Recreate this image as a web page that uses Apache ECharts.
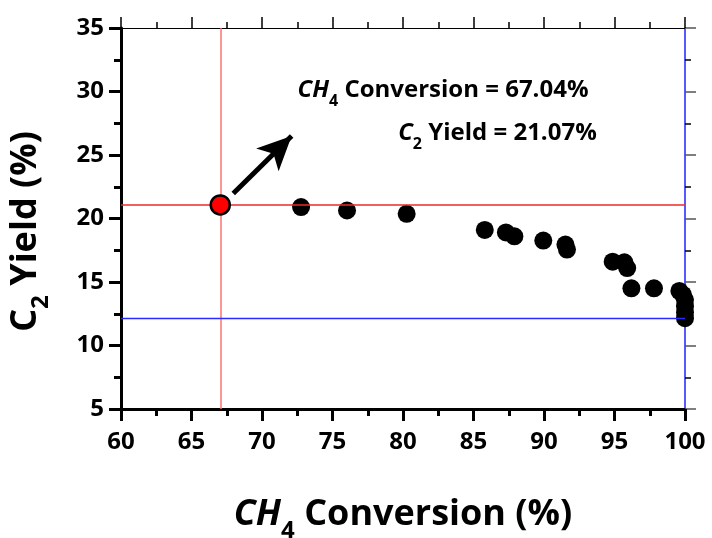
<!DOCTYPE html>
<html><head><meta charset="utf-8">
<script src="https://cdn.jsdelivr.net/npm/echarts@6/dist/echarts.min.js"></script>
<style>html,body{margin:0;padding:0;background:#fff}#c{width:712px;height:538px}</style>
</head><body><div id="c"></div>
<script>
// ---- data ----
const conversion = [72.77, 76.03, 80.26, 85.8, 87.3, 87.9, 89.95, 91.52, 91.63, 94.87, 95.7, 95.9, 96.2, 97.8, 99.6, 99.85, 100, 100, 100, 100];
const yieldC2    = [20.9, 20.63, 20.37, 19.1, 18.9, 18.6, 18.26, 17.95, 17.55, 16.6, 16.55, 16.1, 14.5, 14.5, 14.3, 14.0, 13.6, 13.1, 12.6, 12.15];
const optimum = [67.04, 21.07];
const minYield = 12.15;
const arrowFrom = [67.96, 21.97];
const arrowTo = [72.1, 26.5];
const annotationText = ['{i|CH}{s|4}{n| Conversion = 67.04%}', '{i|C}{s|2}{n| Yield = 21.07%}'];
const annotationAt = [[82.84, 30.12], [86.7, 26.73]];
const xAxisName = '{i|CH}{s|4}{n| Conversion (%)}';
const yAxisName = '{n|C}{s|2}{n| Yield (%)}';

const FONT = '"Open Sans", "Noto Sans", sans-serif';
const chart = echarts.init(document.getElementById('c'));

const pairs = conversion.map((x, i) => [x, yieldC2[i]]);

const annRich = {
  i: {fontFamily: FONT, fontWeight: 700, fontStyle: 'italic', fontSize: 24, color: '#000'},
  s: {fontFamily: FONT, fontWeight: 700, fontSize: 16, color: '#000', padding: [22, 0, 0, 0]},
  n: {fontFamily: FONT, fontWeight: 700, fontSize: 24, color: '#000'}
};

// helper: one reference line per (empty) series so each keeps its own colour
function refLineSeries(item, color, width, z) {
  return {
    type: 'scatter', xAxisIndex: 0, yAxisIndex: 0, data: [], z: z,
    itemStyle: {color: color},
    markLine: {
      silent: true, symbol: ['none', 'none'], label: {show: false},
      lineStyle: {color: color, width: width, type: 'solid', opacity: 1},
      emphasis: {disabled: true},
      data: [item]
    }
  };
}

const option = {
  animation: false,
  backgroundColor: '#fff',
  grid: {left: 121, right: 27, top: 28, bottom: 129, containLabel: false, outerBoundsMode: 'none'},
  xAxis: [{
    type: 'value', min: 60, max: 100, interval: 5, position: 'bottom',
    name: xAxisName, nameLocation: 'middle', nameGap: 78,
    nameTextStyle: {rich: {
      i: {fontFamily: FONT, fontWeight: 700, fontStyle: 'italic', fontSize: 36, color: '#000'},
      s: {fontFamily: FONT, fontWeight: 700, fontSize: 24, color: '#000', padding: [32, 0, 0, 0]},
      n: {fontFamily: FONT, fontWeight: 700, fontSize: 36, color: '#000'}
    }},
    axisLine: {show: true, onZero: false, lineStyle: {color: '#000', width: 3}},
    axisTick: {show: true, inside: false, length: 12, lineStyle: {color: '#000', width: 3}},
    minorTick: {show: true, splitNumber: 2, length: 7, lineStyle: {color: '#000', width: 3}},
    axisLabel: {show: true, margin: 21, fontFamily: FONT, fontWeight: 700, fontSize: 24, color: '#000'},
    splitLine: {show: false}
  }, {
    type: 'value', min: 60, max: 100, interval: 5, position: 'top',
    axisLine: {show: true, onZero: false, lineStyle: {color: '#000', width: 1}},
    axisTick: {show: true, inside: false, length: 11, lineStyle: {color: '#000', width: 1.5}},
    minorTick: {show: true, splitNumber: 2, length: 6, lineStyle: {color: '#000', width: 1.5}},
    axisLabel: {show: false},
    splitLine: {show: false}
  }],
  yAxis: [{
    type: 'value', min: 5, max: 35, interval: 5, position: 'left',
    name: yAxisName, nameLocation: 'middle', nameGap: 68,
    nameTextStyle: {padding: [0, 26, 0, 0], rich: {
      s: {fontFamily: FONT, fontWeight: 700, fontSize: 24, color: '#000', padding: [31, 0, 0, 0]},
      n: {fontFamily: FONT, fontWeight: 700, fontSize: 36, color: '#000'}
    }},
    axisLine: {show: true, onZero: false, lineStyle: {color: '#000', width: 3}},
    axisTick: {show: true, inside: false, length: 12, lineStyle: {color: '#000', width: 3}},
    minorTick: {show: true, splitNumber: 2, length: 7, lineStyle: {color: '#000', width: 3}},
    axisLabel: {show: true, margin: 17, fontFamily: FONT, fontWeight: 700, fontSize: 24, color: '#000'},
    splitLine: {show: false}
  }, {
    type: 'value', min: 5, max: 35, interval: 5, position: 'right',
    axisLine: {show: true, onZero: false, lineStyle: {color: '#2020ff', width: 1.5}},
    axisTick: {show: true, inside: false, length: 11, lineStyle: {color: '#555', width: 1.5}},
    minorTick: {show: true, splitNumber: 2, length: 6, lineStyle: {color: '#000', width: 1.5}},
    axisLabel: {show: false},
    splitLine: {show: false}
  }],
  series: [
    refLineSeries({xAxis: optimum[0]}, '#ff7070', 1.5, 1),
    refLineSeries({yAxis: optimum[1]}, '#ee2a2a', 1.6, 1),
    refLineSeries({yAxis: minYield}, '#2a2aff', 1.4, 1),
    {
      type: 'scatter', xAxisIndex: 0, yAxisIndex: 0,
      data: pairs, symbol: 'circle', symbolSize: 18,
      itemStyle: {color: '#000', opacity: 1},
      z: 3,
      markPoint: {
        silent: true, symbol: 'circle', symbolSize: 0,
        data: annotationAt.map((c, i) => ({
          coord: c,
          label: {show: true, position: 'inside', formatter: annotationText[i], rich: annRich}
        }))
      }
    }, {
      type: 'scatter', xAxisIndex: 0, yAxisIndex: 0,
      data: [], z: 4,
      itemStyle: {color: '#000'},
      markLine: {
        silent: true, symbol: ['none', 'arrow'], symbolSize: [24, 34], label: {show: false},
        lineStyle: {color: '#000', width: 5, type: 'solid'},
        itemStyle: {color: '#000'},
        data: [[{coord: arrowFrom}, {coord: arrowTo}]]
      }
    }, {
      type: 'scatter', xAxisIndex: 0, yAxisIndex: 0,
      data: [optimum], symbol: 'circle', symbolSize: 19,
      itemStyle: {color: '#ff0000', borderColor: '#000', borderWidth: 2.5, opacity: 1},
      z: 5
    }
  ]
};
chart.setOption(option);
</script>
</body></html>
